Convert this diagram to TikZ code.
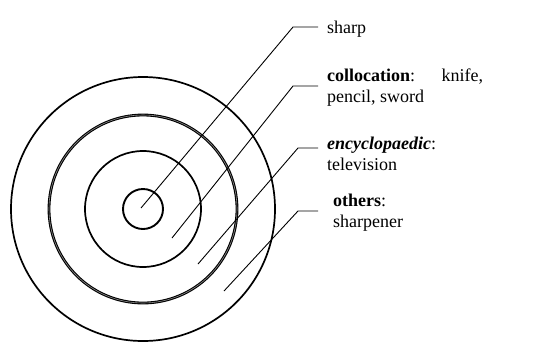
\documentclass[tikz,border=0pt]{standalone}
\usepackage{fontspec}
\setmainfont{Liberation Serif}
\begin{document}
\begin{tikzpicture}[x=1pt,y=-1pt,
  ring/.style={line width=1.7pt},
  leader/.style={line width=0.9pt},
  lbl/.style={anchor=base west, inner sep=0pt, font=\fontsize{18}{21}\selectfont, align=left}]
\useasboundingbox (0,0) rectangle (545,341);
\coordinate (c) at (143,209);
\draw[ring,line width=1.9pt] (c) circle (20pt);
\draw[ring] (c) circle (58pt);
\draw[line width=2.8pt] (c) circle (94pt);
\draw[line width=0.6pt,black!45] (c) circle (94pt);
\draw[ring] (c) circle (132pt);
% labels (base anchor = baseline of the last line)
\node[lbl] (t1) at (327,33) {sharp};
\node[lbl] (t2) at (327,102) {\hbox to 156pt{\textbf{collocation}:\hfill knife,}\\pencil, sword};
\node[lbl] (t3) at (327,170) {\textbf{\textit{encyclopaedic}}:\\television};
\node[lbl] (t4) at (333,227) {\textbf{others}:\\sharpener};
% leaders
\coordinate (s1) at (141,208); \coordinate (e1) at (293,27); \coordinate (h1) at (318,27);
\coordinate (s2) at (172,238); \coordinate (e2) at (293,86); \coordinate (h2) at (318,86);
\coordinate (s3) at (198,264); \coordinate (e3) at (298,148); \coordinate (h3) at (318,148);
\coordinate (s4) at (224,291); \coordinate (e4) at (298,211); \coordinate (h4) at (318,211);
\draw[leader] (s1) -- (e1) -- (h1);
\draw[leader] (s2) -- (e2) -- (h2);
\draw[leader] (s3) -- (e3) -- (h3);
\draw[leader] (s4) -- (e4) -- (h4);
\end{tikzpicture}
\end{document}
